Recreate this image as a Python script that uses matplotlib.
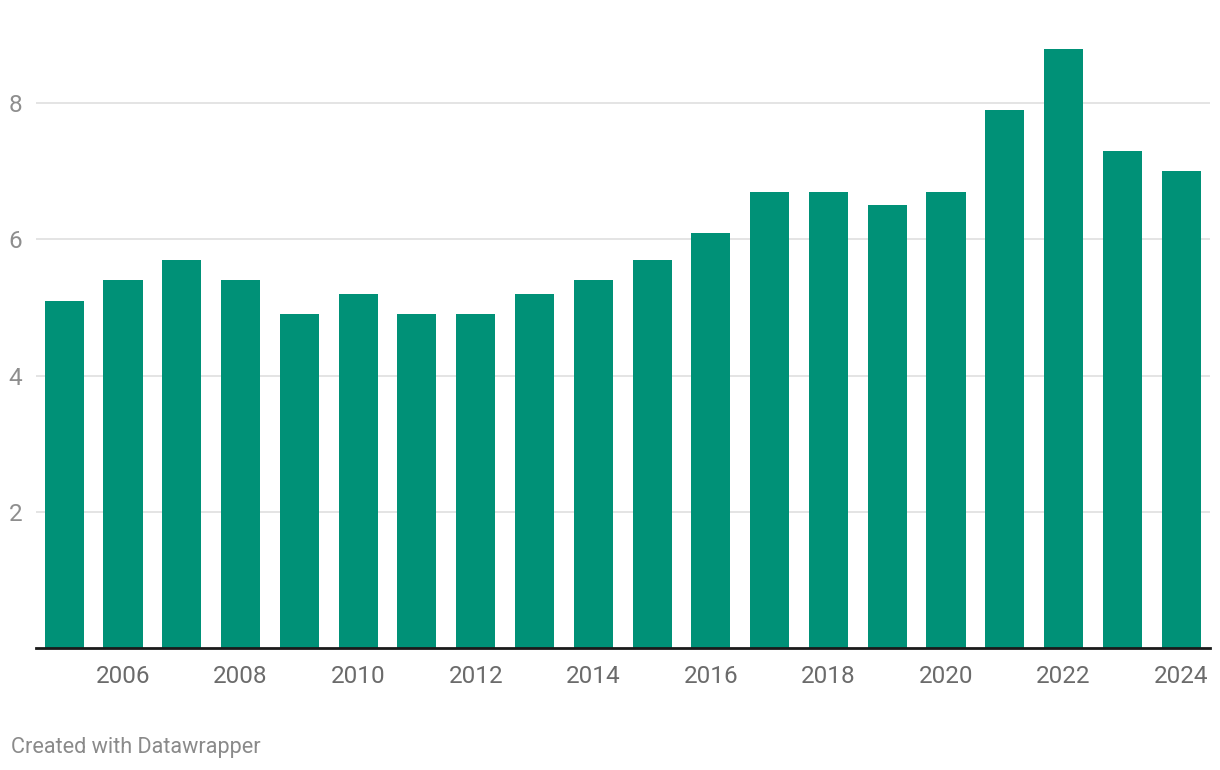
import matplotlib.pyplot as plt
import matplotlib as mpl

mpl.rcParams['font.family'] = ['Roboto', 'DejaVu Sans']

years = list(range(2005, 2025))
values = [5.1, 5.4, 5.7, 5.4, 4.9, 5.2, 4.9, 4.9, 5.2, 5.4,
          5.7, 6.1, 6.7, 6.7, 6.5, 6.7, 7.9, 8.8, 7.3, 7.0]
year_ticks = list(range(2006, 2025, 2))
y_ticks = [2, 4, 6, 8]

BAR_COLOR = '#009177'

fig = plt.figure(figsize=(12.2, 7.7), dpi=100)
ax = fig.add_axes([36 / 1220, 1 - 648 / 770, (1210 - 36) / 1220, (648 - 35) / 770])

ax.bar(years, values, width=0.665, color=BAR_COLOR, zorder=2)

ax.set_xlim(2004.52, 2024.49)
ax.set_ylim(0, 9)

# gridlines
ax.set_yticks(y_ticks)
ax.yaxis.grid(True, color='#e2e2e2', linewidth=1.3, zorder=0)
ax.set_axisbelow(True)

ax.set_xticks(year_ticks)
ax.tick_params(axis='x', length=0, pad=12.5, labelsize=17.5, labelcolor='#6b6b6b')
ax.tick_params(axis='y', length=0, pad=10, labelsize=17.5, labelcolor='#8e8e8e')

for side in ['top', 'right', 'left']:
    ax.spines[side].set_visible(False)
ax.spines['bottom'].set_color('#1a1a1a')
ax.spines['bottom'].set_linewidth(2)
ax.spines['bottom'].set_zorder(3)

fig.text(11 / 1220, 1 - 748 / 770, "Created with Datawrapper", fontsize=15.6,
         color='#8a8a8a', va='center', ha='left')

fig.savefig('out.png', dpi=100)
